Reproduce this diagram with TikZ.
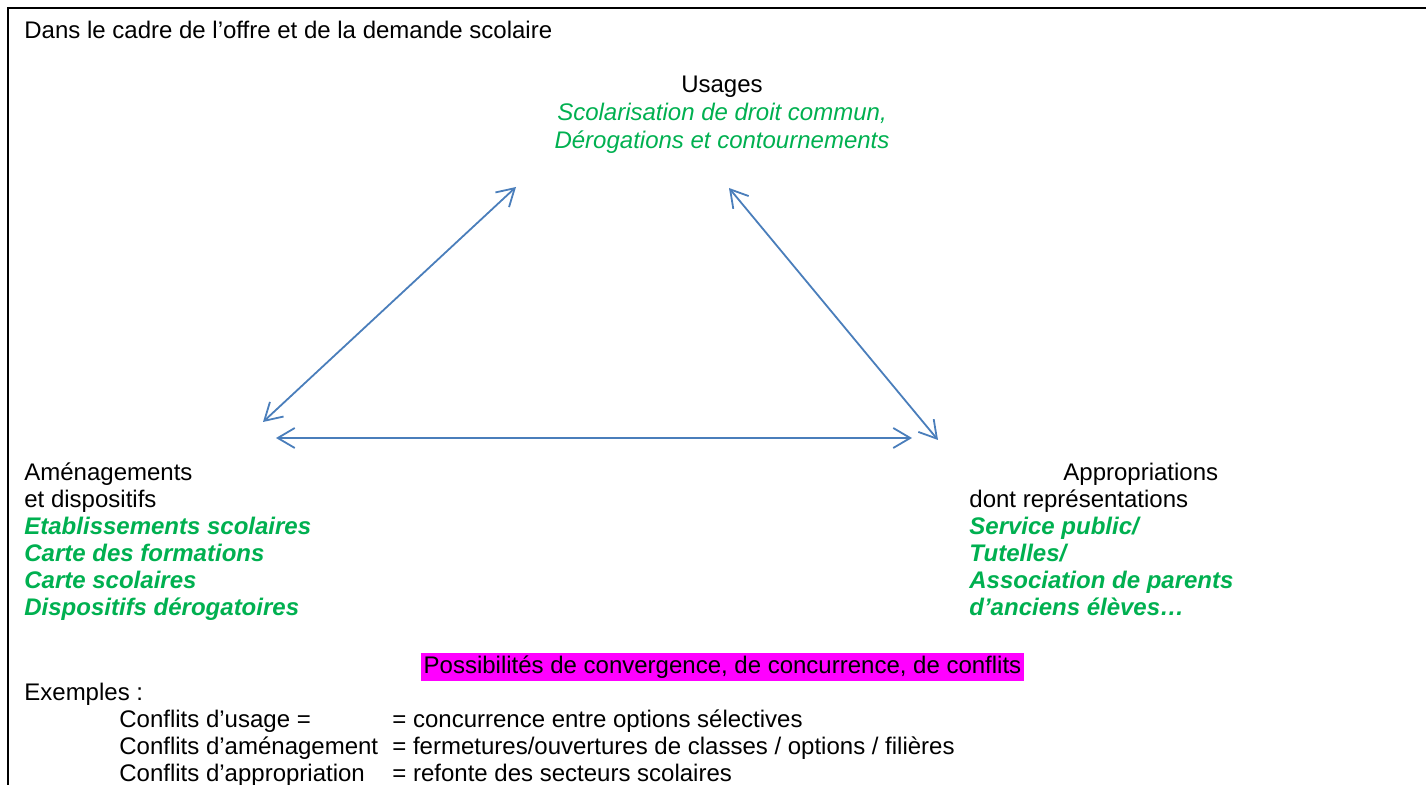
\documentclass[tikz,border=0pt]{standalone}
\usepackage{fontspec}
\setmainfont{Liberation Sans}
\usetikzlibrary{arrows.meta}
\definecolor{wordgreen}{HTML}{00B050}
\definecolor{arrowblue}{HTML}{4A7EBB}
\definecolor{hlmagenta}{HTML}{FF00FF}
\tikzset{
  txt/.style={anchor=base west, inner sep=0pt, font=\fontsize{12}{13.5}\selectfont},
  txtc/.style={anchor=base, inner sep=0pt, font=\fontsize{12}{13.5}\selectfont},
  greenit/.style={text=wordgreen, font=\fontsize{12}{13.5}\selectfont\itshape},
  greenbi/.style={text=wordgreen, font=\fontsize{12}{13.5}\selectfont\bfseries\itshape},
  link/.style={draw=arrowblue, line width=0.9pt, {Straight Barb[length=8.5pt,width=10pt]}-{Straight Barb[length=8.5pt,width=10pt]}},
  frame/.style={draw=black, line width=1pt}
}
\begin{document}
\begin{tikzpicture}[x=0.5pt,y=-0.5pt]
\useasboundingbox (0,0) rectangle (1426,785);
% frame (top and left)
\draw[frame] (8,785) -- (8,8) -- (1426,8);
% title
\node[txt] (title) at (24,39) {Dans le cadre de l’offre et de la demande scolaire};
% Usages block
\node[txtc] (usages) at (722,93) {Usages};
\node[txtc, greenit] (us1) at (722,121) {Scolarisation de droit commun,};
\node[txtc, greenit] (us2) at (722,149) {Dérogations et contournements};
% Left block
\node[txt] (am1) at (24,481) {Aménagements};
\node[txt] (am2) at (24,508) {et dispositifs};
\node[txt, greenbi] (am3) at (24,535) {Etablissements scolaires};
\node[txt, greenbi] (am4) at (24,562) {Carte des formations};
\node[txt, greenbi] (am5) at (24,589) {Carte scolaires};
\node[txt, greenbi] (am6) at (24,616) {Dispositifs dérogatoires};
% Right block
\node[txt] (ap1) at (1063,481) {Appropriations};
\node[txt] (ap2) at (969,508) {dont représentations};
\node[txt, greenbi] (ap3) at (969,535) {Service public/};
\node[txt, greenbi] (ap4) at (969,562) {Tutelles/};
\node[txt, greenbi] (ap5) at (969,589) {Association de parents};
\node[txt, greenbi] (ap6) at (969,616) {d’anciens élèves…};
% arrow end points
\coordinate (lbot) at (263,422);
\coordinate (ltop) at (516,187);
\coordinate (rtop) at (729,188);
\coordinate (rbot) at (938,440);
\coordinate (hl) at (276,438);
\coordinate (hr) at (912,438);
\draw[link] (lbot) -- (ltop);
\draw[link] (rtop) -- (rbot);
\draw[link] (hl) -- (hr);
% highlighted line
\node[anchor=base, inner xsep=1.5pt, inner ysep=0pt, text height=10.5pt, text depth=3.5pt, fill=hlmagenta, font=\fontsize{12}{13.5}\selectfont] (poss) at (722.5,674) {Possibilités de convergence, de concurrence, de conflits};
% examples
\node[txt] (ex) at (24,701) {Exemples :};
\node[txt] (c1) at (119,728) {Conflits d’usage =};
\node[txt] (d1) at (392,728) {= concurrence entre options sélectives};
\node[txt] (c2) at (119,755) {Conflits d’aménagement};
\node[txt] (d2) at (392,755) {= fermetures/ouvertures de classes / options / filières};
\node[txt] (c3) at (119,782) {Conflits d’appropriation};
\node[txt] (d3) at (392,782) {= refonte des secteurs scolaires};
\end{tikzpicture}
\end{document}
